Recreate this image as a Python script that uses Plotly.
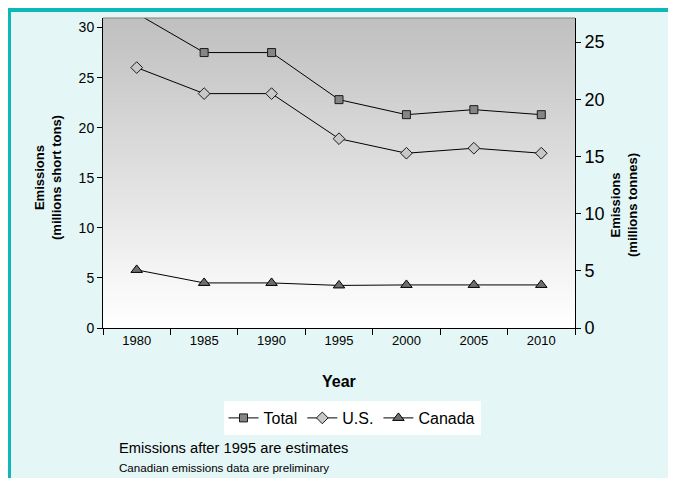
import plotly.graph_objects as go

# emissions, millions short tons
years = ["1980", "1985", "1990", "1995", "2000", "2005", "2010"]
total = [31.4, 27.5, 27.5, 22.8, 21.3, 21.8, 21.3]
us = [26.0, 23.4, 23.4, 18.9, 17.45, 17.95, 17.45]
canada = [5.8, 4.5, 4.5, 4.25, 4.3, 4.3, 4.3]

font = "Liberation Sans, Arial, sans-serif"
W, H = 676, 478
OFF = 8  # page body margin
L, T = 103 - OFF, 18 - OFF
pw, ph = 472, 310
R, B = W - L - pw, H - T - ph


def px(x):
    return (x - OFF - L) / pw


def py(y):
    return 1 - (y - OFF - T) / ph


fig = go.Figure()
fig.add_trace(go.Scatter(
    x=years, y=total, name="Total", mode="lines+markers",
    line=dict(color="black", width=1),
    marker=dict(symbol="square", size=8, color="#858585", line=dict(color="#1a1a1a", width=1)),
))
fig.add_trace(go.Scatter(
    x=years, y=us, name="U.S.", mode="lines+markers",
    line=dict(color="black", width=1),
    marker=dict(symbol="diamond", size=9, color="#c8c8c8", line=dict(color="#1a1a1a", width=1)),
))
fig.add_trace(go.Scatter(
    x=years, y=canada, name="Canada", mode="lines+markers",
    line=dict(color="black", width=1),
    marker=dict(symbol="triangle-up", size=10, color="#6e6e6e", line=dict(color="black", width=1)),
))
# dummy trace for right axis
fig.add_trace(go.Scatter(x=years, y=[None] * len(years), yaxis="y2", showlegend=False, hoverinfo="skip"))

shapes = []
# frame
shapes.append(dict(type="rect", xref="paper", yref="paper", x0=px(6), x1=px(W + 20), y0=py(H + 20), y1=py(7),
                   fillcolor="#0fb8b8", line=dict(width=0), layer="below"))
shapes.append(dict(type="rect", xref="paper", yref="paper", x0=px(11), x1=px(W + 20), y0=py(H + 20), y1=py(12),
                   fillcolor="#e4f6f6", line=dict(width=0), layer="below"))
# gradient plot background
n = 62
for i in range(n):
    t = i / (n - 1)
    c = int(round(192 + (255 - 192) * t))
    shapes.append(dict(type="rect", xref="paper", yref="paper", x0=0, x1=1,
                       y0=1 - (i + 1) / n, y1=1 - i / n, fillcolor=f"rgb({c},{c},{c})",
                       line=dict(width=0), layer="below"))
# top border of plot area
shapes.append(dict(type="line", xref="paper", yref="paper", x0=0, x1=1, y0=1, y1=1,
                   line=dict(color="#808080", width=1)))

annotations = [
    dict(text="<b>Emissions<br>(millions short tons)</b>", x=px(48), y=py(178), xref="paper", yref="paper",
         xanchor="center", yanchor="middle", textangle=-90, showarrow=False,
         font=dict(size=13, color="black")),
    dict(text="<b>Emissions<br>(millions tonnes)</b>", x=px(624), y=py(205), xref="paper", yref="paper",
         xanchor="center", yanchor="middle", textangle=-90, showarrow=False,
         font=dict(size=13, color="black")),
    dict(text="<b>Year</b>", x=px(339), y=py(382), xref="paper", yref="paper",
         xanchor="center", yanchor="middle", showarrow=False, font=dict(size=16, color="black")),
    dict(text="Emissions after 1995 are estimates", x=px(117), y=py(448), xref="paper", yref="paper",
         xanchor="left", yanchor="middle", showarrow=False, font=dict(size=14.7, color="black")),
    dict(text="Canadian emissions data are preliminary", x=px(117), y=py(467), xref="paper", yref="paper",
         xanchor="left", yanchor="middle", showarrow=False, font=dict(size=11.6, color="black")),
]

fig.update_layout(
    width=W, height=H,
    margin=dict(l=L, r=R, t=T, b=B),
    paper_bgcolor="white",
    plot_bgcolor="rgba(0,0,0,0)",
    font=dict(family=font, color="black"),
    showlegend=True,
    legend=dict(orientation="h", x=px(352), xanchor="center", y=py(401), yanchor="top",
                bgcolor="white", font=dict(size=16), itemwidth=30, tracegroupgap=0),
    xaxis=dict(type="category", tickson="boundaries", ticks="outside", ticklen=6, tickcolor="black",
               showline=True, linecolor="black", showgrid=False, tickfont=dict(size=13),
               range=[-0.5, 6.5]),
    yaxis=dict(range=[0, 30.95], tickvals=[0, 5, 10, 15, 20, 25, 30], ticks="outside", ticklen=5,
               tickcolor="black", showline=True, linecolor="black", showgrid=False, zeroline=False,
               tickfont=dict(size=14)),
    yaxis2=dict(range=[0, 27.1], tickvals=[0, 5, 10, 15, 20, 25], overlaying="y", side="right",
                ticks="outside", ticklen=5, tickcolor="black", showline=True, linecolor="black",
                showgrid=False, zeroline=False, tickfont=dict(size=18)),
    shapes=shapes,
    annotations=annotations,
)

fig.write_html("out.html")
